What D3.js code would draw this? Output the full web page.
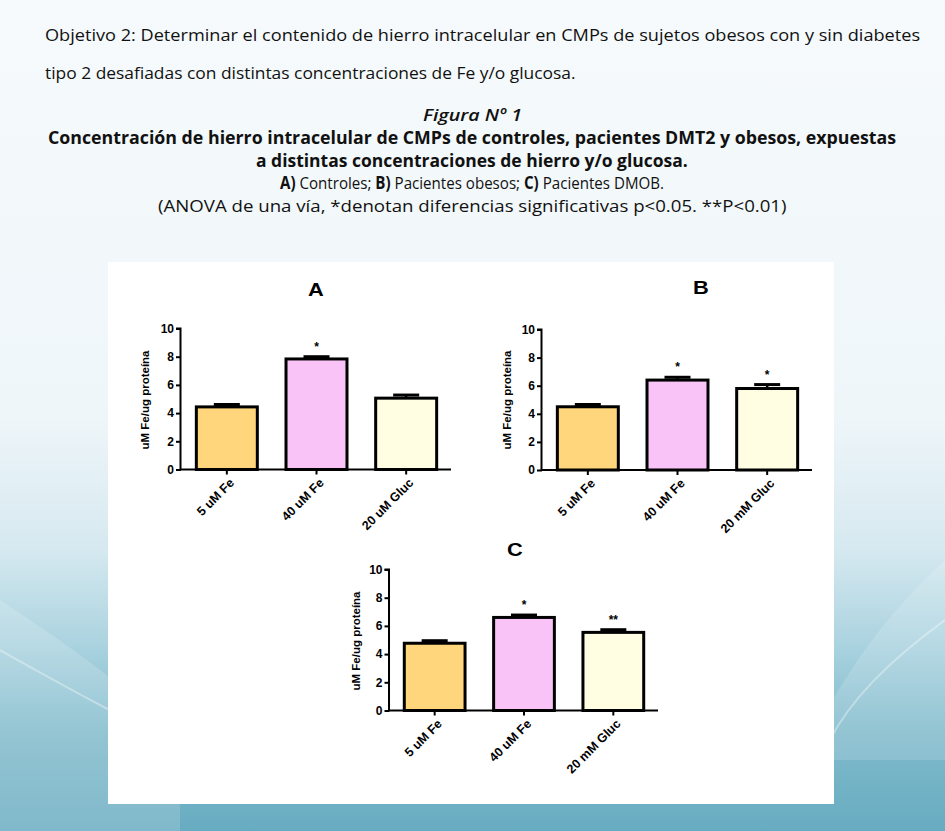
<!DOCTYPE html>
<html>
<head>
<meta charset="utf-8">
<script src="https://cdn.jsdelivr.net/npm/d3@7"></script>
<style>
  body { margin: 0; padding: 0; overflow: hidden; }
  svg { display: block; }
</style>
</head>
<body>
<div id="chart"></div>
<script>
// ---------------- dati ----------------
const categorieA = ["5 uM Fe", "40 uM Fe", "20 uM Gluc"];
const categorieBC = ["5 uM Fe", "40 uM Fe", "20 mM Gluc"];

const valoriA = [4.44, 7.84, 5.06];
const erroriA = [0.17, 0.16, 0.22];
const stelleA = ["", "*", ""];

const valoriB = [4.5, 6.4, 5.8];
const erroriB = [0.16, 0.2, 0.28];
const stelleB = ["", "*", "*"];

const valoriC = [4.77, 6.6, 5.54];
const erroriC = [0.18, 0.17, 0.19];
const stelleC = ["", "*", "**"];

const yTicks = [0, 2, 4, 6, 8, 10];
const colori = ["#FFD67C", "#F9C3F7", "#FFFDE2"];

const W = 945, H = 831;

const svg = d3.select("#chart")
  .append("svg")
  .attr("width", W)
  .attr("height", H);

// ---------------- sfondo ----------------
const defs = svg.append("defs");
const grad = defs.append("linearGradient")
  .attr("id", "bg").attr("x1", 0).attr("y1", 0).attr("x2", 0).attr("y2", 1);
[[0, "#f6fafc"], [0.5, "#eff6f9"], [0.66, "#d6e9f0"], [0.78, "#a9d2df"], [0.88, "#80bacb"], [1, "#68acc1"]]
  .forEach(s => grad.append("stop").attr("offset", s[0]).attr("stop-color", s[1]));

svg.append("rect").attr("width", W).attr("height", H).attr("fill", "url(#bg)");

// onde chiare ai lati
svg.append("path")
  .attr("d", "M0,600 C60,640 120,680 180,740 L180,831 L0,831 Z")
  .attr("fill", "#ffffff").attr("opacity", 0.16);
svg.append("path")
  .attr("d", "M0,650 C70,690 130,720 200,760")
  .attr("fill", "none").attr("stroke", "#ffffff").attr("stroke-width", 2).attr("opacity", 0.35);
svg.append("path")
  .attr("d", "M945,560 C880,620 840,680 800,760 L945,760 Z")
  .attr("fill", "#ffffff").attr("opacity", 0.15);
svg.append("path")
  .attr("d", "M945,620 C890,660 850,700 830,740")
  .attr("fill", "none").attr("stroke", "#ffffff").attr("stroke-width", 2).attr("opacity", 0.35);

// ---------------- testo ----------------
const fontTesto = "'Open Sans', 'Noto Sans', sans-serif";

// scrive una riga e la stringe/allarga tra left e right
function riga(parti, left, right, y, size, stile){
  const t = svg.append("text")
    .attr("x", 0).attr("y", 0)
    .style("font-family", fontTesto).style("font-size", size + "px").style("fill", "#111");
  if(stile == "italic") t.style("font-style", "italic").style("font-weight", "600");
  parti.forEach(p => {
    t.append("tspan").style("font-weight", p[1] ? "bold" : null).text(p[0]);
  });
  const len = t.node().getComputedTextLength();
  t.attr("transform", `translate(${left}, ${y}) scale(${(right - left) / len}, 1)`);
  return t;
}

riga([["Objetivo 2: Determinar el contenido de hierro intracelular en CMPs de sujetos obesos con y sin diabetes", false]], 45, 921, 41, 16.5);
riga([["tipo 2 desafiadas con distintas concentraciones de Fe y/o glucosa.", false]], 45, 576, 79, 16.5);
riga([["Figura Nº 1", false]], 423, 522, 121, 17, "italic");
riga([["Concentración de hierro intracelular de CMPs de controles, pacientes DMT2 y obesos, expuestas", true]], 48, 897, 144, 17);
riga([["a distintas  concentraciones de hierro y/o glucosa.", true]], 256, 688, 167, 17);
riga([["A)", true], [" Controles; ", false], ["B)", true], [" Pacientes obesos; ", false], ["C)", true], [" Pacientes DMOB.", false]], 280, 664, 189, 17);
riga([["(ANOVA de una vía, *denotan diferencias  significativas p<0.05. **P<0.01)", false]], 158, 787, 212, 17);

// pannello bianco
svg.append("rect")
  .attr("x", 108).attr("y", 262).attr("width", 726).attr("height", 542)
  .attr("fill", "#ffffff");

// ---------------- grafici ----------------
const fontGrafico = "'Liberation Sans', Arial, sans-serif";

function barChart(cfg){
  const g = svg.append("g");

  const y = d3.scaleLinear()
    .domain([0, 10])
    .range([cfg.base, cfg.top]);

  const x = d3.scaleBand()
    .domain(cfg.categorie)
    .range([cfg.bandStart, cfg.axisEnd])
    .paddingInner(0.32)
    .paddingOuter(0.16);

  // titolo
  g.append("text")
    .attr("transform", `translate(${cfg.titleX}, ${cfg.titleY}) scale(1.15, 1)`)
    .attr("text-anchor", "middle")
    .style("font-family", fontGrafico).style("font-size", "19px").style("font-weight", "bold")
    .text(cfg.titolo);

  const dati = cfg.categorie.map((c, i) => ({c: c, v: cfg.valori[i], e: cfg.errori[i], s: cfg.stelle[i], col: colori[i]}));

  // error bars (dietro le barre)
  const eb = g.append("g");
  eb.selectAll("line.v")
    .data(dati)
    .join("line")
    .attr("x1", d => x(d.c) + x.bandwidth() / 2)
    .attr("x2", d => x(d.c) + x.bandwidth() / 2)
    .attr("y1", d => y(d.v))
    .attr("y2", d => y(d.v + d.e))
    .attr("stroke", "#000").attr("stroke-width", 2.5);
  eb.selectAll("line.h")
    .data(dati)
    .join("line")
    .attr("x1", d => x(d.c) + x.bandwidth() / 2 - 13)
    .attr("x2", d => x(d.c) + x.bandwidth() / 2 + 13)
    .attr("y1", d => y(d.v + d.e))
    .attr("y2", d => y(d.v + d.e))
    .attr("stroke", "#000").attr("stroke-width", 3);

  // barre
  g.append("g")
    .selectAll("rect")
    .data(dati)
    .join("rect")
    .attr("x", d => x(d.c))
    .attr("y", d => y(d.v))
    .attr("width", x.bandwidth())
    .attr("height", d => y(0) - y(d.v))
    .attr("fill", d => d.col)
    .attr("stroke", "#000")
    .attr("stroke-width", 3);

  // asterischi
  g.append("g")
    .selectAll("text")
    .data(dati)
    .join("text")
    .attr("x", d => x(d.c) + x.bandwidth() / 2)
    .attr("y", d => y(d.v + d.e) - 6)
    .attr("text-anchor", "middle")
    .style("font-family", fontGrafico).style("font-size", "12px").style("font-weight", "bold")
    .text(d => d.s);

  // asse Y
  const ay = g.append("g")
    .attr("transform", `translate(${cfg.axisX}, 0)`)
    .call(d3.axisLeft(y).tickValues(yTicks).tickSize(5).tickPadding(2));
  ay.select(".domain").attr("stroke-width", 2).attr("d", `M-0.5,${cfg.base}V${cfg.top}H-5`);
  ay.selectAll(".tick line").attr("stroke-width", 2);
  ay.selectAll(".tick text")
    .style("font-family", fontGrafico).style("font-size", "12px").style("font-weight", "bold").style("fill", "#000");

  // asse X
  const ax = g.append("g")
    .attr("transform", `translate(0, ${cfg.base})`)
    .call(d3.axisBottom(x).tickSize(5).tickSizeOuter(0));
  ax.select(".domain").attr("stroke-width", 2).attr("d", `M${cfg.axisX - 1},0H${cfg.axisEnd}`);
  ax.selectAll(".tick line").attr("stroke-width", 2);
  ax.selectAll(".tick text")
    .attr("text-anchor", "end")
    .attr("transform", "translate(5, 11) rotate(-45)")
    .attr("dy", "0.35em")
    .attr("y", 0)
    .style("font-family", fontGrafico).style("font-size", "12.5px").style("font-weight", "bold").style("fill", "#000");

  // etichetta asse Y
  g.append("text")
    .attr("transform", `translate(${cfg.labelX}, ${cfg.labelY}) rotate(-90)`)
    .attr("text-anchor", "middle")
    .style("font-family", fontGrafico).style("font-size", "11.5px").style("font-weight", "bold")
    .text("uM Fe/ug proteína");
}

barChart({
  titolo: "A", titleX: 316, titleY: 296,
  categorie: categorieA, valori: valoriA, errori: erroriA, stelle: stelleA,
  axisX: 181, axisEnd: 451, bandStart: 182, base: 469.5, top: 328.5,
  labelX: 149, labelY: 400
});

barChart({
  titolo: "B", titleX: 701, titleY: 294,
  categorie: categorieBC, valori: valoriB, errori: erroriB, stelle: stelleB,
  axisX: 542, axisEnd: 812, bandStart: 543, base: 470, top: 329.5,
  labelX: 511, labelY: 400
});

barChart({
  titolo: "C", titleX: 515, titleY: 556,
  categorie: categorieBC, valori: valoriC, errori: erroriC, stelle: stelleC,
  axisX: 389.5, axisEnd: 658, bandStart: 390, base: 710.5, top: 569.5,
  labelX: 360, labelY: 641
});
</script>
</body>
</html>
